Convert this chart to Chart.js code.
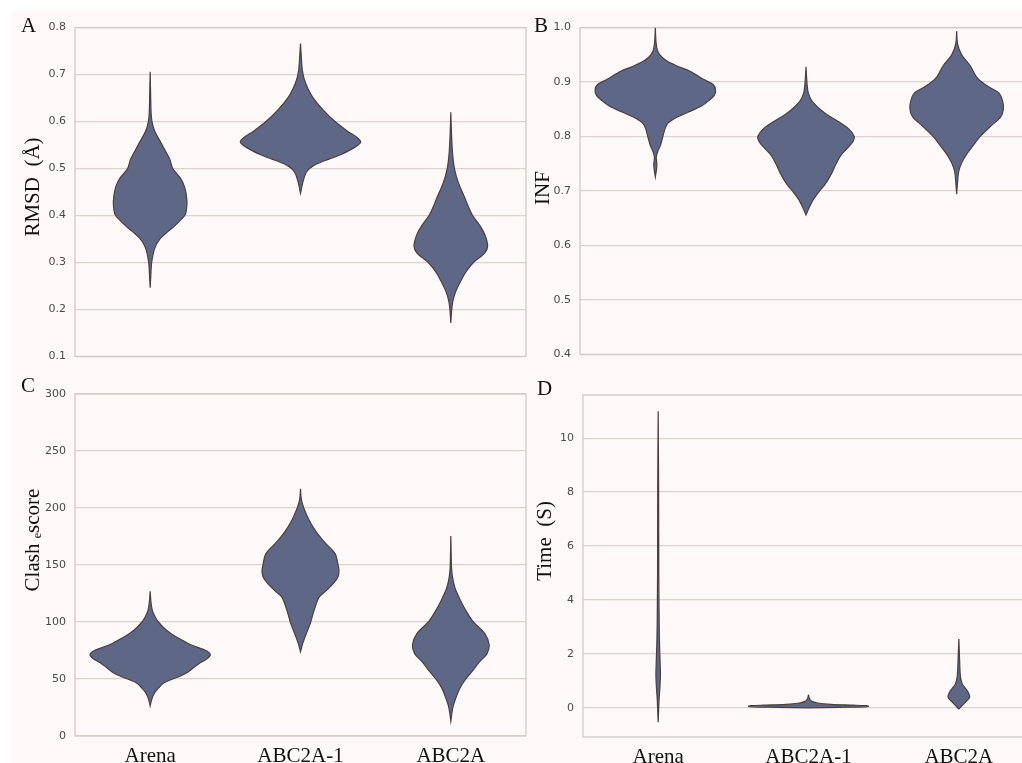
<!DOCTYPE html>
<html>
<head>
<meta charset="utf-8">
<script src="https://cdn.jsdelivr.net/npm/chart.js@4/dist/chart.umd.min.js"></script>
<style>
  html, body { margin: 0; padding: 0; background: #ffffff; width: 1022px; height: 763px; overflow: hidden; position: relative; }
  #fig { position: absolute; left: 11px; top: 12px; width: 1011px; height: 751px; background: #fdf9f8; }
  canvas { position: absolute; }
</style>
</head>
<body>
<div id="fig"></div>
<canvas id="panelA" width="520" height="360" style="left:12px;top:12px"></canvas>
<canvas id="panelB" width="506" height="358" style="left:530px;top:12px"></canvas>
<canvas id="panelC" width="520" height="391" style="left:12px;top:372px"></canvas>
<canvas id="panelD" width="508" height="391" style="left:530px;top:372px"></canvas>
<script>
// Methods compared in every panel (x positions 0, 1, 2)
const CATEGORIES = ['Arena', 'ABC2A-1', 'ABC2A'];

// Violin outlines: [value, half-width in category units], top to bottom
const RMSD_ARENA = [[0.706,0],[0.66,0.003],[0.62,0.006],[0.60,0.012],[0.58,0.03],[0.55,0.08],[0.52,0.13],[0.50,0.15],[0.48,0.2],[0.46,0.23],[0.43,0.245],[0.41,0.24],[0.40,0.23],[0.38,0.17],[0.365,0.115],[0.35,0.065],[0.33,0.03],[0.30,0.01],[0.27,0.004],[0.246,0]];
const RMSD_ABC2A1 = [[0.766,0],[0.74,0.005],[0.71,0.012],[0.69,0.025],[0.67,0.05],[0.65,0.085],[0.625,0.15],[0.60,0.23],[0.58,0.31],[0.565,0.38],[0.556,0.4],[0.545,0.36],[0.53,0.27],[0.52,0.19],[0.51,0.11],[0.50,0.06],[0.49,0.035],[0.47,0.015],[0.447,0]];
const RMSD_ABC2A = [[0.62,0],[0.57,0.005],[0.53,0.012],[0.50,0.024],[0.47,0.05],[0.44,0.09],[0.42,0.115],[0.40,0.145],[0.38,0.19],[0.36,0.225],[0.335,0.245],[0.32,0.225],[0.30,0.15],[0.28,0.1],[0.26,0.065],[0.24,0.035],[0.22,0.015],[0.20,0.006],[0.171,0]];

const INF_ARENA = [[1.0,0],[0.975,0.004],[0.96,0.012],[0.95,0.03],[0.94,0.07],[0.93,0.14],[0.92,0.23],[0.905,0.32],[0.895,0.385],[0.885,0.4],[0.875,0.39],[0.865,0.35],[0.855,0.3],[0.845,0.22],[0.835,0.14],[0.825,0.085],[0.815,0.065],[0.80,0.05],[0.785,0.035],[0.772,0.015],[0.762,0.006],[0.75,0.01],[0.74,0.008],[0.726,0]];
const INF_ABC2A1 = [[0.928,0],[0.90,0.006],[0.88,0.015],[0.865,0.04],[0.85,0.093],[0.84,0.14],[0.83,0.2],[0.815,0.28],[0.80,0.32],[0.79,0.31],[0.78,0.28],[0.765,0.23],[0.75,0.2],[0.735,0.175],[0.72,0.145],[0.71,0.12],[0.70,0.09],[0.685,0.05],[0.67,0.022],[0.656,0]];
const INF_ABC2A = [[0.993,0],[0.97,0.006],[0.95,0.033],[0.93,0.09],[0.91,0.13],[0.90,0.166],[0.89,0.22],[0.88,0.28],[0.865,0.305],[0.85,0.31],[0.835,0.29],[0.82,0.23],[0.80,0.155],[0.78,0.1],[0.765,0.06],[0.75,0.03],[0.735,0.013],[0.72,0.007],[0.694,0]];

const CLASH_ARENA = [[127,0],[118,0.005],[110,0.015],[104,0.035],[100,0.055],[95,0.09],[90,0.137],[85,0.2],[80,0.27],[75,0.37],[71.5,0.4],[68,0.38],[64,0.33],[60,0.29],[56,0.25],[52,0.19],[49,0.13],[46,0.085],[42,0.055],[38,0.03],[34,0.015],[30,0.006],[26.4,0]];
const CLASH_ABC2A1 = [[216.8,0],[208,0.005],[200,0.022],[190,0.055],[180,0.1],[170,0.16],[160,0.23],[150,0.25],[145,0.256],[140,0.25],[134,0.22],[128,0.175],[122,0.125],[116,0.105],[108,0.085],[100,0.068],[92,0.045],[85,0.025],[80,0.012],[73.8,0]];
const CLASH_ABC2A = [[175.5,0],[150,0.004],[140,0.01],[130,0.027],[120,0.06],[110,0.1],[100,0.15],[90,0.225],[80,0.255],[72,0.24],[65,0.19],[58,0.15],[50,0.1],[42,0.06],[34,0.035],[26,0.015],[20,0.007],[13,0]];

const TIME_ARENA = [[11.0,0],[8,0.003],[5,0.004],[3.5,0.006],[2.6,0.008],[2.0,0.011],[1.5,0.014],[1.2,0.015],[0.8,0.012],[0.3,0.006],[-0.1,0.003],[-0.53,0]];
const TIME_ABC2A1 = [[0.49,0],[0.35,0.006],[0.25,0.02],[0.18,0.06],[0.13,0.15],[0.10,0.3],[0.08,0.38],[0.06,0.4],[0.04,0.38],[0.02,0.2],[0.0,0]];
const TIME_ABC2A = [[2.55,0],[1.8,0.005],[1.2,0.01],[0.9,0.022],[0.75,0.04],[0.6,0.06],[0.4,0.072],[0.25,0.05],[0.1,0.025],[-0.04,0]];

// Y tick values per panel
const TICKS_RMSD = [0.1, 0.2, 0.3, 0.4, 0.5, 0.6, 0.7, 0.8];
const TICKS_INF = [0.4, 0.5, 0.6, 0.7, 0.8, 0.9, 1.0];
const TICKS_CLASH = [0, 50, 100, 150, 200, 250, 300];
const TICKS_TIME = [0, 2, 4, 6, 8, 10];

const VIOLIN_FILL = '#5f6787';
const VIOLIN_EDGE = '#4a3f3f';
const GRID = '#dcd3cf';
const FRAME = '#d3c9c5';
const TICK_FONT = { family: '"DejaVu Sans", sans-serif', size: 11 };
const SERIF = '"Liberation Serif", "Times New Roman", serif';

// Closed outline: left edge top->bottom, then right edge bottom->top
function violin(profile, idx) {
  const left = profile.map(([v, w]) => ({ x: idx - w, y: v }));
  const right = profile.slice().reverse().map(([v, w]) => ({ x: idx + w, y: v }));
  return {
    data: left.concat(right),
    borderColor: VIOLIN_EDGE,
    borderWidth: 1.2,
    backgroundColor: VIOLIN_FILL,
    fill: 'shape',
    tension: 0.3,
    pointRadius: 0,
    pointHoverRadius: 0
  };
}

// Frame around the plot area plus panel letter and rotated axis title
const panelDecor = {
  id: 'panelDecor',
  beforeDatasetsDraw(chart, args, opts) {
    const { ctx, chartArea: a } = chart;
    ctx.save();
    ctx.strokeStyle = FRAME;
    ctx.lineWidth = 1.3;
    ctx.strokeRect(a.left, a.top, a.right - a.left, a.bottom - a.top);
    ctx.restore();
  },
  afterDraw(chart, args, opts) {
    const { ctx } = chart;
    ctx.save();
    ctx.fillStyle = '#111111';
    ctx.font = '21px ' + SERIF;
    ctx.textAlign = 'left';
    ctx.textBaseline = 'alphabetic';
    ctx.fillText(opts.letter, opts.letterX, opts.letterY);
    ctx.translate(opts.titleX, opts.titleY);
    ctx.rotate(-Math.PI / 2);
    ctx.textAlign = 'center';
    ctx.textBaseline = 'middle';
    ctx.fillText(opts.title, 0, 0);
    ctx.restore();
  }
};

function makePanel(id, cfg) {
  const yTicks = cfg.ticks;
  new Chart(document.getElementById(id), {
    type: 'line',
    data: { datasets: cfg.series.map((p, i) => violin(p, i)) },
    options: {
      responsive: false,
      animation: false,
      events: [],
      layout: { padding: cfg.padding },
      plugins: {
        legend: { display: false },
        tooltip: { enabled: false },
        panelDecor: cfg.decor
      },
      scales: {
        x: {
          type: 'linear',
          min: -0.5,
          max: 2.5,
          display: cfg.showX,
          grid: { display: false },
          border: { display: false },
          afterBuildTicks: s => { s.ticks = CATEGORIES.map((_, i) => ({ value: i })); },
          afterFit: s => { s.height = cfg.xHeight; },
          ticks: {
            padding: 0,
            maxRotation: 0,
            color: '#111111',
            font: { family: SERIF, size: 21 },
            callback: v => CATEGORIES[v]
          }
        },
        y: {
          type: 'linear',
          min: cfg.min,
          max: cfg.max,
          grid: { color: GRID, lineWidth: 1.3, drawTicks: false },
          border: { display: false },
          afterBuildTicks: s => { s.ticks = yTicks.map(v => ({ value: v })); },
          afterFit: s => { s.width = cfg.yWidth; },
          ticks: {
            padding: 9,
            color: '#4a4a4a',
            font: TICK_FONT,
            callback: v => cfg.fmt(v)
          }
        }
      }
    },
    plugins: [panelDecor]
  });
}

makePanel('panelA', {
  series: [RMSD_ARENA, RMSD_ABC2A1, RMSD_ABC2A],
  ticks: TICKS_RMSD, min: 0.1, max: 0.8, fmt: v => v.toFixed(1),
  showX: false, xHeight: 0, yWidth: 63,
  padding: { top: 15, right: 6, bottom: 5, left: 0 },
  decor: { letter: 'A', letterX: 9, letterY: 20, title: 'RMSD  (Å)', titleX: 21, titleY: 175 }
});

makePanel('panelB', {
  series: [INF_ARENA, INF_ABC2A1, INF_ABC2A],
  ticks: TICKS_INF, min: 0.4, max: 1.0, fmt: v => v.toFixed(1),
  showX: false, xHeight: 0, yWidth: 50,
  padding: { top: 12, right: 4, bottom: 5, left: 0 },
  decor: { letter: 'B', letterX: 4, letterY: 20, title: 'INF', titleX: 13, titleY: 176 }
});

makePanel('panelC', {
  series: [CLASH_ARENA, CLASH_ABC2A1, CLASH_ABC2A],
  ticks: TICKS_CLASH, min: 0, max: 300, fmt: v => String(v),
  showX: true, xHeight: 27, yWidth: 63,
  padding: { top: 22, right: 6, bottom: 0, left: 0 },
  decor: { letter: 'C', letterX: 9, letterY: 20, title: 'Clash \u2091score', titleX: 21, titleY: 168 }
});

makePanel('panelD', {
  series: [TIME_ARENA, TIME_ABC2A1, TIME_ABC2A],
  ticks: TICKS_TIME, min: -1.08, max: 11.6, fmt: v => String(v),
  showX: true, xHeight: 26, yWidth: 53,
  padding: { top: 23, right: 4, bottom: 0, left: 0 },
  decor: { letter: 'D', letterX: 7, letterY: 23, title: 'Time  (S)', titleX: 15, titleY: 169 }
});
</script>
</body>
</html>
